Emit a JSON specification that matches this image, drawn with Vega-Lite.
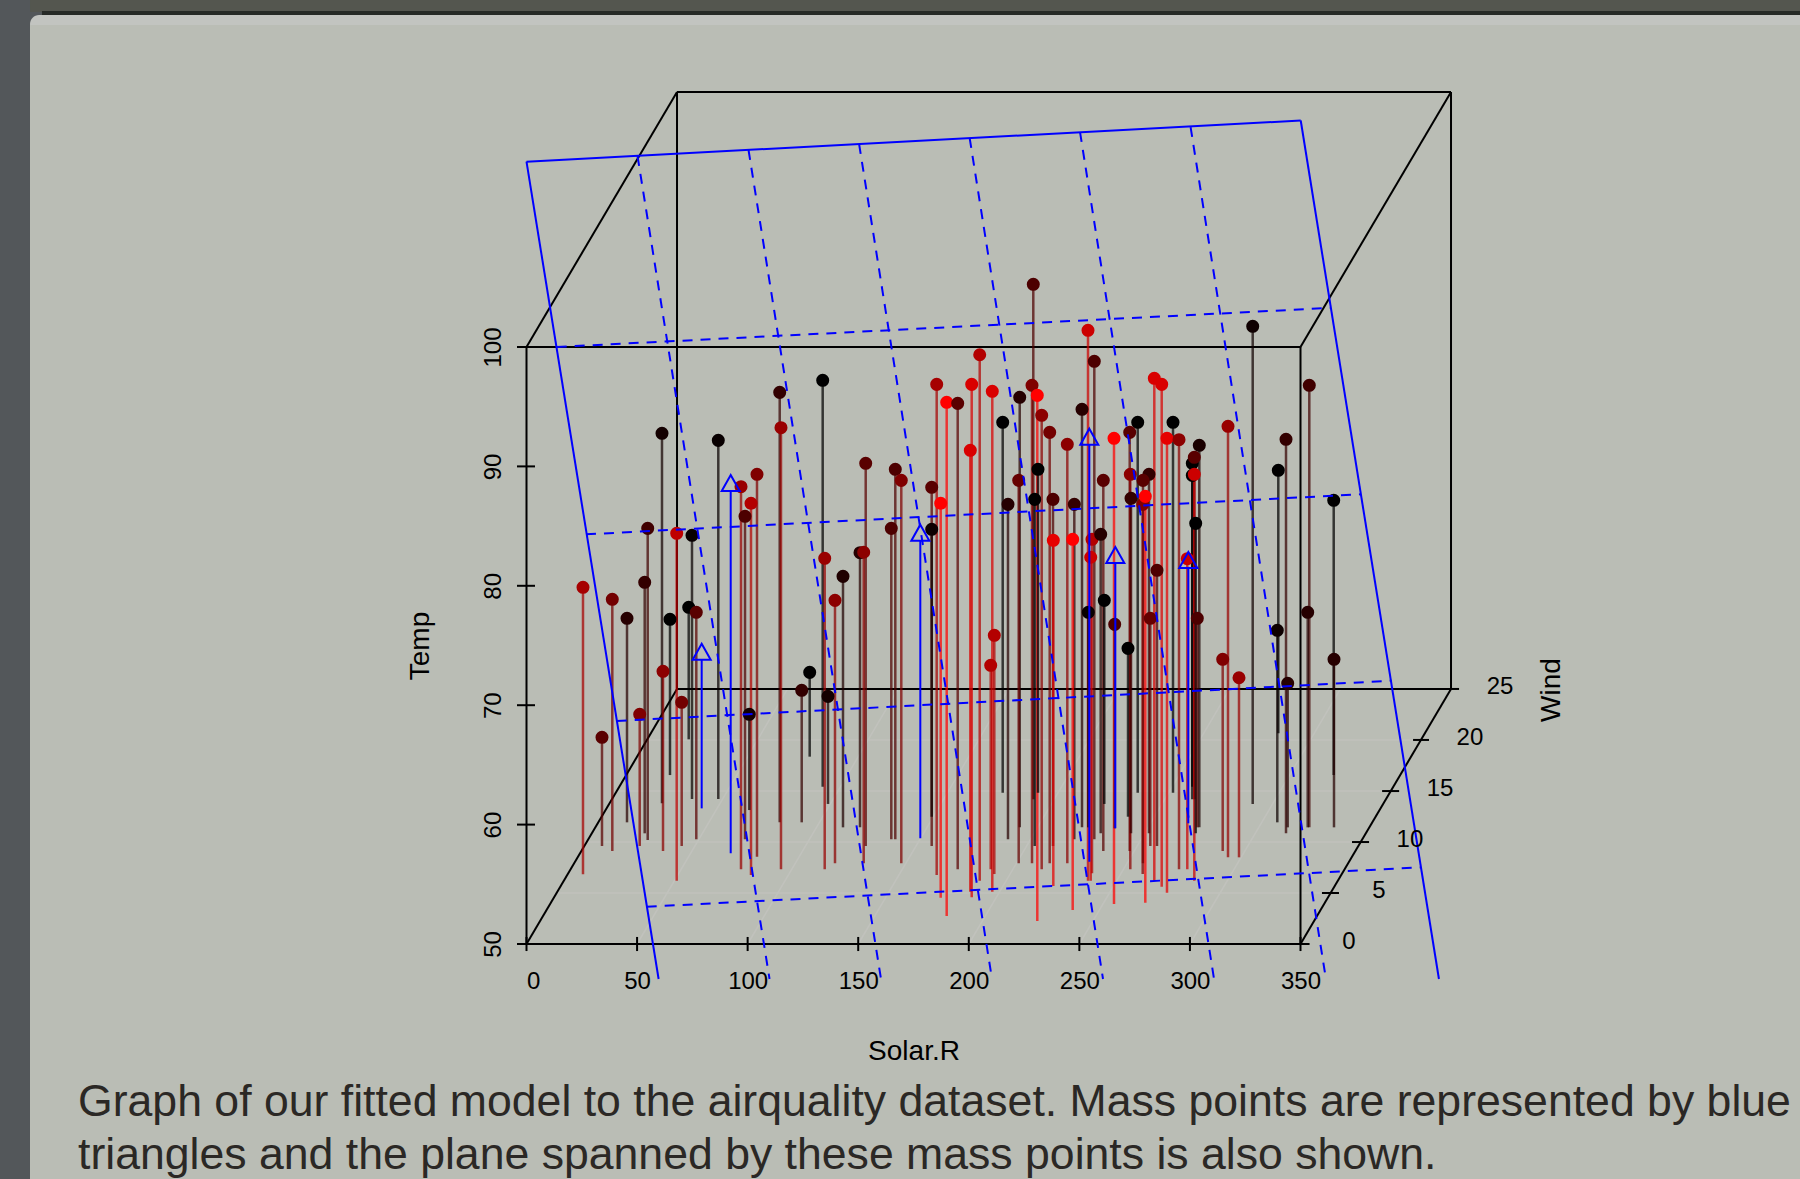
{"$schema":"https://vega.github.io/schema/vega-lite/v6.json","width":774,"height":597,"autosize":{"type":"none"},"padding":{"left":526.5,"top":347,"right":499.5,"bottom":235},"background":"#53575a","config":{"view":{"stroke":null},"font":"Liberation Sans"},
"datasets":{
"chrome":[{"part":"strip","solar":-224.5,"solar2":576,"temp":129.06,"temp2":128.06},{"part":"edge","solar":-219.1,"solar2":576,"temp":128.14,"temp2":127.8},{"part":"band","solar":-224.5,"solar2":594,"temp":127.8,"temp2":28.56},{"part":"panel","solar":-224.5,"solar2":576,"temp":126.97,"temp2":28.56}],
"lines":[
{"kind":"faint","solar":0,"temp":50,"solar2":68.06,"temp2":71.36},{"kind":"faint","solar":50,"temp":50,"solar2":118.06,"temp2":71.36},{"kind":"faint","solar":100,"temp":50,"solar2":168.06,"temp2":71.36},{"kind":"faint","solar":150,"temp":50,"solar2":218.06,"temp2":71.36},{"kind":"faint","solar":200,"temp":50,"solar2":268.06,"temp2":71.36},{"kind":"faint","solar":250,"temp":50,"solar2":318.06,"temp2":71.36},{"kind":"faint","solar":300,"temp":50,"solar2":368.06,"temp2":71.36},{"kind":"faint","solar":350,"temp":50,"solar2":418.06,"temp2":71.36},
{"kind":"faint","solar":13.6,"temp":54.27,"solar2":363.6,"temp2":54.27},{"kind":"faint","solar":27.2,"temp":58.54,"solar2":377.2,"temp2":58.54},{"kind":"faint","solar":40.8,"temp":62.81,"solar2":390.8,"temp2":62.81},{"kind":"faint","solar":54.4,"temp":67.09,"solar2":404.4,"temp2":67.09},
{"kind":"box","solar":0,"temp":50,"solar2":350,"temp2":50},{"kind":"box","solar":0,"temp":100,"solar2":350,"temp2":100},{"kind":"box","solar":0,"temp":50,"solar2":0,"temp2":100},{"kind":"box","solar":350,"temp":50,"solar2":350,"temp2":100},{"kind":"box","solar":68.06,"temp":71.36,"solar2":418.06,"temp2":71.36},{"kind":"box","solar":68.06,"temp":121.36,"solar2":418.06,"temp2":121.36},{"kind":"box","solar":68.06,"temp":71.36,"solar2":68.06,"temp2":121.36},{"kind":"box","solar":418.06,"temp":71.36,"solar2":418.06,"temp2":121.36},{"kind":"box","solar":0,"temp":50,"solar2":68.06,"temp2":71.36},{"kind":"box","solar":350,"temp":50,"solar2":418.06,"temp2":71.36},{"kind":"box","solar":0,"temp":100,"solar2":68.06,"temp2":121.36},{"kind":"box","solar":350,"temp":100,"solar2":418.06,"temp2":121.36},
{"kind":"box","solar":0,"temp":49.41,"solar2":0,"temp2":50.59},{"kind":"box","solar":50,"temp":49.41,"solar2":50,"temp2":50.59},{"kind":"box","solar":100,"temp":49.41,"solar2":100,"temp2":50.59},{"kind":"box","solar":150,"temp":49.41,"solar2":150,"temp2":50.59},{"kind":"box","solar":200,"temp":49.41,"solar2":200,"temp2":50.59},{"kind":"box","solar":250,"temp":49.41,"solar2":250,"temp2":50.59},{"kind":"box","solar":300,"temp":49.41,"solar2":300,"temp2":50.59},{"kind":"box","solar":350,"temp":49.41,"solar2":350,"temp2":50.59},
{"kind":"box","solar":-4.3,"temp":50,"solar2":3.84,"temp2":50},{"kind":"box","solar":-4.3,"temp":60,"solar2":3.84,"temp2":60},{"kind":"box","solar":-4.3,"temp":70,"solar2":3.84,"temp2":70},{"kind":"box","solar":-4.3,"temp":80,"solar2":3.84,"temp2":80},{"kind":"box","solar":-4.3,"temp":90,"solar2":3.84,"temp2":90},{"kind":"box","solar":-4.3,"temp":100,"solar2":3.84,"temp2":100},
{"kind":"box","solar":350,"temp":50,"solar2":354.1,"temp2":50},{"kind":"box","solar":359.7,"temp":54.27,"solar2":367.4,"temp2":54.27},{"kind":"box","solar":373.3,"temp":58.54,"solar2":381,"temp2":58.54},{"kind":"box","solar":386.9,"temp":62.81,"solar2":394.6,"temp2":62.81},{"kind":"box","solar":400.9,"temp":67.09,"solar2":408.1,"temp2":67.09},{"kind":"box","solar":418.06,"temp":71.36,"solar2":421.7,"temp2":71.36},
{"kind":"plane","solar":0,"temp":115.52,"solar2":350.1,"temp2":118.97},{"kind":"plane","solar":0,"temp":115.52,"solar2":59.74,"temp2":47.07},{"kind":"plane","solar":350.1,"temp":118.97,"solar2":412.6,"temp2":47.07},
{"kind":"dash","solar":13.66,"temp":100,"solar2":363.3,"temp2":103.27},{"kind":"dash","solar":26.9,"temp":84.31,"solar2":376.9,"temp2":87.66},{"kind":"dash","solar":40.8,"temp":68.68,"solar2":391.2,"temp2":72.05},{"kind":"dash","solar":54.35,"temp":53.12,"solar2":404.5,"temp2":56.42},
{"kind":"dash","solar":50.2,"temp":115.99,"solar2":109.9,"temp2":47.07},{"kind":"dash","solar":100.4,"temp":116.5,"solar2":160.3,"temp2":47.07},{"kind":"dash","solar":150.4,"temp":117,"solar2":210.5,"temp2":47.07},{"kind":"dash","solar":200.4,"temp":117.5,"solar2":260.7,"temp2":47.07},{"kind":"dash","solar":250.3,"temp":118,"solar2":310.9,"temp2":47.07},{"kind":"dash","solar":300.3,"temp":118.42,"solar2":361.5,"temp2":47.07}
],
"obs":[
{"solar":61.27,"temp":92.77,"floor":61.78,"shade":0.08},{"solar":86.73,"temp":92.18,"floor":62.14,"shade":0.03},{"solar":114.5,"temp":96.2,"floor":60.19,"shade":0.2},{"solar":115.08,"temp":93.24,"floor":56.26,"shade":0.6},{"solar":133.94,"temp":97.21,"floor":63.17,"shade":0},{"solar":185.49,"temp":96.87,"floor":55.78,"shade":0.65},{"solar":190.01,"temp":95.37,"floor":52.35,"shade":1},{"solar":97,"temp":88.3,"floor":56.26,"shade":0.6},{"solar":104.23,"temp":89.34,"floor":57.31,"shade":0.5},{"solar":101.52,"temp":86.91,"floor":55.78,"shade":0.7},{"solar":98.81,"temp":85.82,"floor":58.77,"shade":0.3},{"solar":54.81,"temp":84.81,"floor":58.71,"shade":0.25},{"solar":67.92,"temp":84.4,"floor":55.3,"shade":0.75},{"solar":74.84,"temp":84.23,"floor":62.14,"shade":0.03},{"solar":25.55,"temp":79.87,"floor":55.84,"shade":0.65},{"solar":53.45,"temp":80.29,"floor":59.27,"shade":0.2},{"solar":153.39,"temp":90.26,"floor":58.21,"shade":0.35},{"solar":166.77,"temp":89.76,"floor":58.77,"shade":0.3},{"solar":169.48,"temp":88.83,"floor":56.76,"shade":0.5},{"solar":183.23,"temp":88.25,"floor":58.21,"shade":0.35},{"solar":187.3,"temp":86.91,"floor":53.88,"shade":1},{"solar":183.23,"temp":84.73,"floor":60.66,"shade":0.05},{"solar":164.96,"temp":84.81,"floor":58.77,"shade":0.3},{"solar":134.85,"temp":82.3,"floor":56.26,"shade":0.6},{"solar":150.81,"temp":82.77,"floor":59.77,"shade":0.15},{"solar":152.48,"temp":82.81,"floor":56.76,"shade":0.55},{"solar":143.12,"temp":80.79,"floor":59.77,"shade":0.12},{"solar":38.8,"temp":78.87,"floor":57.79,"shade":0.45},{"solar":45.45,"temp":77.28,"floor":60.19,"shade":0.15},{"solar":64.89,"temp":77.19,"floor":64.15,"shade":0},{"solar":73.35,"temp":78.2,"floor":67.14,"shade":0},{"solar":76.78,"temp":77.78,"floor":58.77,"shade":0.35},{"solar":61.73,"temp":72.84,"floor":57.79,"shade":0.55},{"solar":70.18,"temp":70.24,"floor":58.21,"shade":0.45},{"solar":51.19,"temp":69.24,"floor":58.21,"shade":0.5},{"solar":34.14,"temp":67.31,"floor":58.21,"shade":0.35},{"solar":100.75,"temp":69.24,"floor":61.22,"shade":0.08},{"solar":124.45,"temp":71.25,"floor":60.19,"shade":0.2},{"solar":128.06,"temp":72.75,"floor":65.69,"shade":0},{"solar":136.34,"temp":70.74,"floor":61.73,"shade":0.08},{"solar":139.5,"temp":78.78,"floor":56.76,"shade":0.55},
{"solar":229.17,"temp":105.25,"floor":62.12,"shade":0.3},{"solar":253.91,"temp":101.4,"floor":55.3,"shade":0.8},{"solar":204.94,"temp":99.35,"floor":55.3,"shade":0.7},{"solar":256.76,"temp":98.8,"floor":58.77,"shade":0.3},{"solar":328.39,"temp":101.73,"floor":61.73,"shade":0.06},{"solar":353.98,"temp":96.79,"floor":59.77,"shade":0.25},{"solar":201.32,"temp":96.87,"floor":53.91,"shade":0.85},{"solar":210.63,"temp":96.29,"floor":54.38,"shade":0.85},{"solar":194.99,"temp":95.28,"floor":56.26,"shade":0.35},{"solar":228.59,"temp":96.79,"floor":56.76,"shade":0.5},{"solar":223.03,"temp":95.79,"floor":59.77,"shade":0.15},{"solar":230.98,"temp":95.95,"floor":51.93,"shade":1},{"solar":251.2,"temp":94.78,"floor":59.77,"shade":0.15},{"solar":232.97,"temp":94.28,"floor":56.26,"shade":0.55},{"solar":236.59,"temp":92.85,"floor":56.76,"shade":0.45},{"solar":215.34,"temp":93.69,"floor":62.67,"shade":0},{"solar":200.69,"temp":91.35,"floor":54.38,"shade":0.85},{"solar":244.55,"temp":91.85,"floor":56.76,"shade":0.55},{"solar":283.89,"temp":97.38,"floor":55.3,"shade":0.85},{"solar":287.24,"temp":96.87,"floor":54.8,"shade":0.85},{"solar":276.39,"temp":93.69,"floor":62.67,"shade":0},{"solar":292.35,"temp":93.69,"floor":62.67,"shade":0},{"solar":272.77,"temp":92.85,"floor":57.79,"shade":0.35},{"solar":265.67,"temp":92.35,"floor":53.35,"shade":1},{"solar":289.63,"temp":92.35,"floor":54.3,"shade":0.9},{"solar":295.06,"temp":92.24,"floor":56.26,"shade":0.55},{"solar":304.24,"temp":91.77,"floor":59.77,"shade":0.1},{"solar":317.22,"temp":93.36,"floor":57.26,"shade":0.6},{"solar":343.45,"temp":92.27,"floor":59.27,"shade":0.2},{"solar":339.96,"temp":89.67,"floor":67.65,"shade":0},{"solar":301.07,"temp":90.26,"floor":63.17,"shade":0},{"solar":301.07,"temp":89.25,"floor":62.12,"shade":0},{"solar":301.98,"temp":90.76,"floor":62.12,"shade":0.35},{"solar":301.98,"temp":89.34,"floor":55.3,"shade":0.8},{"solar":231.3,"temp":89.76,"floor":62.67,"shade":0},{"solar":222.57,"temp":88.83,"floor":56.76,"shade":0.4},{"solar":260.83,"temp":88.83,"floor":57.79,"shade":0.35},{"solar":273.04,"temp":89.34,"floor":56.26,"shade":0.55},{"solar":281.49,"temp":89.34,"floor":59.27,"shade":0.2},{"solar":278.78,"temp":88.83,"floor":56.76,"shade":0.35},{"solar":273.36,"temp":87.33,"floor":59.27,"shade":0.2},{"solar":278.65,"temp":86.82,"floor":55.86,"shade":0.5},{"solar":279.82,"temp":87.49,"floor":53.46,"shade":1},{"solar":217.73,"temp":86.82,"floor":58.77,"shade":0.15},{"solar":229.81,"temp":87.24,"floor":58.21,"shade":0},{"solar":238.08,"temp":87.24,"floor":58.21,"shade":0.3},{"solar":247.72,"temp":86.82,"floor":58.77,"shade":0.2},{"solar":302.61,"temp":85.23,"floor":59.27,"shade":0},{"solar":365.02,"temp":87.16,"floor":64.15,"shade":0},{"solar":238.22,"temp":83.81,"floor":54.86,"shade":0.9},{"solar":246.99,"temp":83.89,"floor":52.85,"shade":1},{"solar":255.72,"temp":83.89,"floor":55.92,"shade":0.7},{"solar":259.65,"temp":84.31,"floor":59.27,"shade":0.15},{"solar":255.13,"temp":82.39,"floor":55.3,"shade":0.8},{"solar":298.81,"temp":82.27,"floor":56.26,"shade":0.8},{"solar":285.11,"temp":81.3,"floor":58.21,"shade":0.3},{"solar":261.28,"temp":78.78,"floor":61.73,"shade":0},{"solar":254.05,"temp":77.78,"floor":59.77,"shade":0.03},{"solar":265.98,"temp":76.77,"floor":59.69,"shade":0.3},{"solar":282.08,"temp":77.28,"floor":58.21,"shade":0.4},{"solar":303.34,"temp":77.28,"floor":59.77,"shade":0.3},{"solar":272,"temp":74.76,"floor":60.66,"shade":0},{"solar":211.54,"temp":75.85,"floor":55.86,"shade":0.7},{"solar":209.91,"temp":73.34,"floor":56.26,"shade":0.7},{"solar":314.82,"temp":73.84,"floor":57.79,"shade":0.5},{"solar":322.19,"temp":72.3,"floor":57.26,"shade":0.6},{"solar":339.51,"temp":76.27,"floor":60.19,"shade":0.05},{"solar":353.26,"temp":77.78,"floor":59.77,"shade":0.15},{"solar":365.15,"temp":73.84,"floor":59.77,"shade":0.15},{"solar":344.21,"temp":71.83,"floor":59.77,"shade":0.15}
],
"mass":[{"solar":92.34,"temp":88.61,"top":87.94,"floor":57.6},{"solar":79.22,"temp":74.48,"top":73.81,"floor":61.36},{"solar":178.08,"temp":84.45,"top":83.78,"floor":58.85},{"solar":254.5,"temp":92.49,"top":91.82,"floor":56.89},{"solar":266.26,"temp":82.58,"top":81.91,"floor":59.69},{"solar":299.27,"temp":82.16,"top":81.49,"floor":60.11}],
"notes":[{"group":"wind","label":"0","solar":371.9,"temp":50.17},{"group":"wind","label":"5","solar":385.5,"temp":54.44},{"group":"wind","label":"10","solar":399.5,"temp":58.71},{"group":"wind","label":"15","solar":413.1,"temp":62.98},{"group":"wind","label":"20","solar":426.6,"temp":67.25},{"group":"wind","label":"25","solar":440.2,"temp":71.52},{"group":"title","label":"Wind","solar":463.7,"temp":71.27},{"group":"caption","label":"Graph of our fitted model to the airquality dataset. Mass points are represented by blue","solar":-202.8,"temp":36.68},{"group":"caption","label":"triangles and the plane spanned by these mass points is also shown.","solar":-202.8,"temp":32.24}]
},
"data":{"name":"obs"},
"encoding":{
"x":{"field":"solar","type":"quantitative","scale":{"domain":[0,350],"nice":false,"zero":false},"axis":{"values":[0,50,100,150,200,250,300,350],"title":"Solar.R","ticks":false,"domain":false,"grid":false,"labelFontSize":24,"labelColor":"#000000","labelFont":"Liberation Sans","labelPadding":25,"labelAlign":{"condition":{"test":"datum.value==0","value":"left"},"value":"center"},"titleFontSize":28,"titleFont":"Liberation Sans","titleFontWeight":"normal","titleColor":"#000000","titlePadding":44,"zindex":1}},
"y":{"field":"temp","type":"quantitative","scale":{"domain":[50,100],"nice":false,"zero":false},"axis":{"values":[50,60,70,80,90,100],"title":"Temp","ticks":false,"domain":false,"grid":false,"labelFontSize":24,"labelColor":"#000000","labelFont":"Liberation Sans","labelAngle":-90,"labelAlign":"center","labelBaseline":"bottom","labelPadding":21,"titleFontSize":28,"titleFont":"Liberation Sans","titleFontWeight":"normal","titleColor":"#000000","titlePadding":47,"zindex":1}}
},
"layer":[
{"data":{"name":"chrome"},"transform":[{"filter":"datum.part=='strip'"}],"mark":{"type":"rect","color":"#54564f"},"encoding":{"x2":{"field":"solar2"},"y2":{"field":"temp2"}}},
{"data":{"name":"chrome"},"transform":[{"filter":"datum.part=='edge'"}],"mark":{"type":"rect","color":"#262a26"},"encoding":{"x2":{"field":"solar2"},"y2":{"field":"temp2"}}},
{"data":{"name":"chrome"},"transform":[{"filter":"datum.part=='band'"}],"mark":{"type":"rect","color":"#c2c4c0","cornerRadius":9},"encoding":{"x2":{"field":"solar2"},"y2":{"field":"temp2"}}},
{"data":{"name":"chrome"},"transform":[{"filter":"datum.part=='panel'"}],"mark":{"type":"rect","color":"#babdb5"},"encoding":{"x2":{"field":"solar2"},"y2":{"field":"temp2"}}},
{"data":{"name":"lines"},"transform":[{"filter":"datum.kind=='faint'"}],"mark":{"type":"rule","color":"#c1c2bd","strokeWidth":1.5},"encoding":{"x2":{"field":"solar2"},"y2":{"field":"temp2"}}},
{"data":{"name":"lines"},"transform":[{"filter":"datum.kind=='box'"}],"mark":{"type":"rule","color":"#000000","strokeWidth":2},"encoding":{"x2":{"field":"solar2"},"y2":{"field":"temp2"}}},
{"mark":{"type":"rule","strokeWidth":2.5,"opacity":0.72},"encoding":{"y2":{"field":"floor"},"color":{"field":"shade","type":"quantitative","scale":{"domain":[0,1],"range":["#000000","#ff0000"],"interpolate":"rgb"},"legend":null}}},
{"mark":{"type":"circle","size":170,"opacity":1},"encoding":{"color":{"field":"shade","type":"quantitative","scale":{"domain":[0,1],"range":["#000000","#ff0000"],"interpolate":"rgb"},"legend":null}}},
{"data":{"name":"mass"},"mark":{"type":"rule","color":"#0000ff","strokeWidth":2},"encoding":{"y":{"field":"top","type":"quantitative"},"y2":{"field":"floor"}}},
{"data":{"name":"mass"},"mark":{"type":"point","shape":"M0,-0.89L1,0.89L-1,0.89Z","size":324,"filled":false,"color":"#0000ff","strokeWidth":2,"opacity":1}},
{"data":{"name":"lines"},"transform":[{"filter":"datum.kind=='plane'"}],"mark":{"type":"rule","color":"#0000ff","strokeWidth":2},"encoding":{"x2":{"field":"solar2"},"y2":{"field":"temp2"}}},
{"data":{"name":"lines"},"transform":[{"filter":"datum.kind=='dash'"}],"mark":{"type":"rule","color":"#0000ff","strokeWidth":2,"strokeDash":[10,8]},"encoding":{"x2":{"field":"solar2"},"y2":{"field":"temp2"}}},
{"data":{"name":"notes"},"transform":[{"filter":"datum.group=='wind'"}],"mark":{"type":"text","font":"Liberation Sans","fontSize":24,"color":"#000000","align":"center","baseline":"middle"},"encoding":{"text":{"field":"label"}}},
{"data":{"name":"notes"},"transform":[{"filter":"datum.group=='title'"}],"mark":{"type":"text","font":"Liberation Sans","fontSize":28,"color":"#000000","align":"center","baseline":"middle","angle":270},"encoding":{"text":{"field":"label"}}},
{"data":{"name":"notes"},"transform":[{"filter":"datum.group=='caption'"}],"mark":{"type":"text","font":"Liberation Sans","fontSize":44.6,"color":"#2b2825","align":"left","baseline":"middle"},"encoding":{"text":{"field":"label"}}}
]}
